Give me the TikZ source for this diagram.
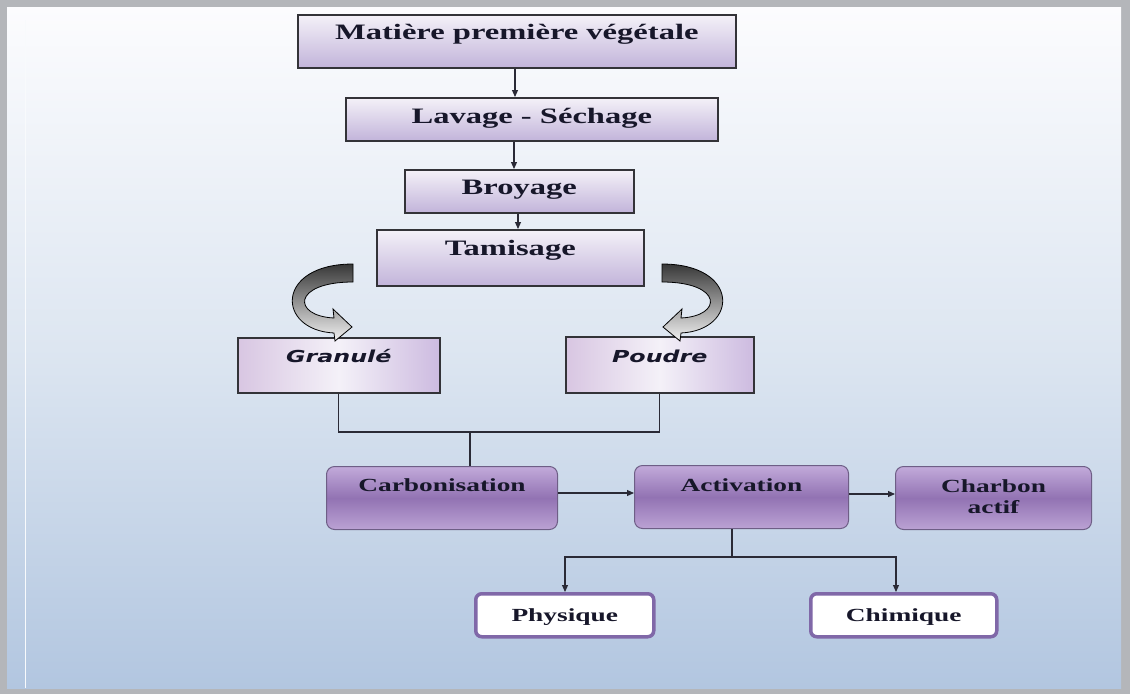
\documentclass[tikz,border=0pt]{standalone}
\usepackage{fontspec}
\usetikzlibrary{arrows.meta}
\newfontfamily\tf[FakeStretch=1.48]{Liberation Serif}
\newfontfamily\gf[FakeStretch=1.44]{DejaVu Sans}
\definecolor{framegray}{HTML}{B4B6BA}
\definecolor{bgtop}{HTML}{FCFCFE}
\definecolor{bgmid}{HTML}{DDE6F1}
\definecolor{bgbot}{HTML}{B2C6E0}
\definecolor{boxedge}{HTML}{333338}
\definecolor{lavtop}{HTML}{F4F1F8}
\definecolor{lavbot}{HTML}{C2B4DA}
\definecolor{pinkl}{HTML}{D8C6E2}
\definecolor{pinkr}{HTML}{CDBBE0}
\definecolor{purtop}{HTML}{C2AADA}
\definecolor{purmid}{HTML}{9273B3}
\definecolor{purbot}{HTML}{BBA2D4}
\definecolor{puredge}{HTML}{6E5E86}
\definecolor{wedge}{HTML}{8068A8}
\definecolor{txt}{HTML}{17172A}
\definecolor{linec}{HTML}{2A2A36}
\begin{document}
\begin{tikzpicture}[x=1pt,y=-1pt,
  every node/.style={inner xsep=0pt, inner ysep=0pt, anchor=north west, text=txt},
  topbox/.style={rectangle, draw=boxedge, line width=1.6pt, top color=lavtop, bottom color=lavbot,
    font=\tf\bfseries\fontsize{22}{26}\selectfont},
  granbox/.style={rectangle, draw=boxedge, line width=1.6pt, left color=pinkl, right color=pinkr, middle color=lavtop,
    font=\gf\bfseries\itshape\fontsize{16.5}{20}\selectfont},
  purbox/.style={rectangle, rounded corners=8pt, draw=puredge, line width=1pt, top color=purtop, bottom color=purbot, middle color=purmid,
    font=\tf\bfseries\fontsize{18.5}{21}\selectfont},
  whitebox/.style={rectangle, rounded corners=6pt, draw=wedge, line width=3.5pt, fill=white,
    font=\tf\bfseries\fontsize{18.5}{21}\selectfont},
  conn/.style={draw=linec, line width=1.1pt},
  arr/.style={conn, -{Triangle[length=7pt,width=6pt]}},
  bigarrow/.style={top color=black!78, bottom color=black!5, middle color=black!42, draw=black, line width=0.8pt}
]
\useasboundingbox (0,0) rectangle (1130,694);
% frame and background panel
\fill[framegray] (0,0) rectangle (1130,694);
\shade[top color=bgtop, bottom color=bgbot, middle color=bgmid] (7,7) rectangle (1121,688);
\draw[white!80!bgmid, line width=1pt] (25,20) -- (25,688);

% boxes
\node[topbox, minimum width=438pt, minimum height=53pt, text height=25pt, text depth=28pt] (m) at (297,14) {Matière première végétale};
\node[topbox, minimum width=372pt, minimum height=43pt, text height=26pt, text depth=17pt] (l) at (345,97) {Lavage - Séchage};
\node[topbox, minimum width=229pt, minimum height=43pt, text height=25pt, text depth=18pt] (b) at (404,169) {Broyage};
\node[topbox, minimum width=267pt, minimum height=56pt, text height=26pt, text depth=30pt] (t) at (376,229) {Tamisage};
\node[granbox, minimum width=202pt, minimum height=55pt, text height=25pt, text depth=30pt] (g) at (237,337) {Granulé};
\node[granbox, minimum width=188pt, minimum height=56pt, text height=26pt, text depth=30pt] (p) at (565,336) {Poudre};
\node[purbox, minimum width=231pt, minimum height=63pt, text height=25pt, text depth=38pt] (c) at (326,466) {Carbonisation};
\node[purbox, minimum width=214pt, minimum height=63pt, text height=26pt, text depth=37pt] (a) at (634,465) {Activation};
\node[purbox, minimum width=196pt, minimum height=63pt, text height=26pt, text depth=37pt] (ca) at (895,466)
  {\begin{tabular}[t]{@{}c@{}}Charbon\\actif\end{tabular}};
\node[whitebox, minimum width=178pt, minimum height=43pt, text height=28pt, text depth=15pt] (ph) at (474,592) {Physique};
\node[whitebox, minimum width=186pt, minimum height=43pt, text height=28pt, text depth=15pt] (ch) at (809,592) {Chimique};

% vertical chain
\coordinate (ax) at (515,0);
\draw[arr] (m.south -| ax) -- (l.north -| ax);
\coordinate (bx) at (514,0);
\draw[arr] (l.south -| bx) -- (b.north -| bx);
\coordinate (cx) at (518,0);
\draw[arr] (b.south -| cx) -- (t.north -| cx);

% curved block arrows
\shade[bigarrow] (353,264) .. controls (275,264) and (276,330) .. (334,333) -- (335,341) -- (352,327) -- (333,309)
  -- (334,318) .. controls (292,316) and (292,282) .. (353,282) -- cycle;
\shade[bigarrow] (662,264) .. controls (740,264) and (739,330) .. (681,333) -- (680,341) -- (663,327) -- (682,309)
  -- (681,318) .. controls (723,316) and (723,282) .. (662,282) -- cycle;

% bracket joining Granulé and Poudre
\coordinate (jn) at (470,432);
\draw[conn] (g.south) |- (jn) -| (p.south);
\draw[conn] (jn) -- (c.north -| jn);

% horizontal chain
\coordinate (hy1) at (0,493);
\draw[arr] (c.east |- hy1) -- (a.west |- hy1);
\coordinate (hy2) at (0,494);
\draw[arr] (a.east |- hy2) -- (ca.west |- hy2);

% split to Physique / Chimique
\coordinate (split) at (732,557);
\coordinate (px) at (565,0);
\coordinate (chx) at (896,0);
\draw[conn] (a.south -| split) -- (split);
\draw[arr] (split) -| (ph.north -| px);
\draw[arr] (split) -| (ch.north -| chx);
\end{tikzpicture}
\end{document}
